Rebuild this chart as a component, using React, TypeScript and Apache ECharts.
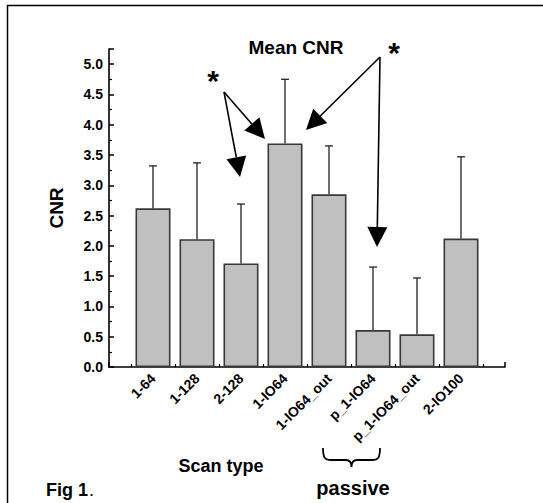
import React, { useEffect, useRef } from "react";
import * as echarts from "echarts";

const categories = ["1-64", "1-128", "2-128", "1-IO64", "1-IO64_out", "p_1-IO64", "p_1-IO64_out", "2-IO100"];
const meanCNR = [2.62, 2.11, 1.71, 3.69, 2.85, 0.61, 0.54, 2.12];
const errorUpper = [3.32, 3.37, 2.69, 4.75, 3.65, 1.65, 1.47, 3.47];

const FONT = '"Liberation Sans", Arial, sans-serif';

function arrow(x1: number, y1: number, x2: number, y2: number) {
  const L = 20, W = 10;
  const dx = x2 - x1, dy = y2 - y1;
  const len = Math.hypot(dx, dy);
  const ux = dx / len, uy = dy / len;
  const bx = x2 - ux * L, by = y2 - uy * L;
  const px = -uy, py = ux;
  return [
    { type: "line", shape: { x1, y1, x2: bx, y2: by }, style: { stroke: "#000", lineWidth: 1.6 } },
    {
      type: "polygon",
      shape: { points: [[x2, y2], [bx + px * W, by + py * W], [bx - px * W, by - py * W]] },
      style: { fill: "#000" },
    },
  ];
}

echarts.graphic.registerShape(
  "brace",
  echarts.graphic.extendPath(
    "M0,0 C0,10 2,12 8,12 L23,12 C27,12 28.5,14 28.5,19 C28.5,14 30,12 34,12 L49,12 C55,12 57,10 57,0",
    {}
  )
);

export default function App() {
  const ref = useRef<HTMLDivElement>(null);
  useEffect(() => {
    if (!ref.current) return;
    const chart = echarts.init(ref.current, null, { renderer: "svg" });
    const txt = (text: string, x: number, y: number, size: number, weight = "bold", align = "center") => ({
      type: "text",
      x,
      y,
      style: {
        text,
        fill: "#000",
        fontFamily: FONT,
        fontSize: size,
        fontWeight: weight,
        align,
        verticalAlign: "middle",
      },
    });
    chart.setOption({
      animation: false,
      backgroundColor: "#fff",
      grid: { left: 109, right: 38, top: 49, bottom: 136 },
      xAxis: {
        type: "value",
        min: 0,
        max: 9,
        interval: 1,
        axisLine: { show: true, lineStyle: { color: "#000", width: 1.6 } },
        axisTick: { show: true, inside: true, length: 5, lineStyle: { color: "#000", width: 1.5 } },
        minorTick: { show: true, splitNumber: 2, length: 3, lineStyle: { color: "#000", width: 1.2 } },
        splitLine: { show: false },
        axisLabel: {
          rotate: 45,
          margin: 9,
          color: "#000",
          fontFamily: FONT,
          fontWeight: "bold",
          fontSize: 14,
          formatter: (v: number) => (v >= 1 && v <= categories.length ? categories[v - 1] : ""),
        },
      },
      yAxis: {
        type: "value",
        min: 0,
        max: 5.25,
        interval: 0.5,
        name: "CNR",
        nameLocation: "middle",
        nameGap: 43,
        nameTextStyle: { color: "#000", fontFamily: FONT, fontWeight: "bold", fontSize: 19 },
        axisLine: { show: true, lineStyle: { color: "#000", width: 1.6 } },
        axisTick: { show: true, inside: true, length: 5, lineStyle: { color: "#000", width: 1.5 } },
        minorTick: { show: true, splitNumber: 2, length: 3, lineStyle: { color: "#000", width: 1.2 } },
        splitLine: { show: false },
        axisLabel: {
          showMaxLabel: false,
          margin: 6,
          color: "#000",
          fontFamily: FONT,
          fontWeight: "bold",
          fontSize: 14,
          formatter: (v: number) => v.toFixed(1),
        },
      },
      series: [
        {
          type: "bar",
          data: categories.map((c, i) => [i + 1, meanCNR[i]]),
          barWidth: 35,
          itemStyle: { color: "#c0c0c0", borderColor: "#383838", borderWidth: 1.6 },
          z: 2,
        },
        {
          type: "custom",
          data: categories.map((c, i) => [i + 1, meanCNR[i], errorUpper[i]]),
          encode: { x: 0, y: [1, 2] },
          z: 3,
          renderItem: (params: any, api: any) => {
            const x = api.value(0);
            const lo = api.coord([x, api.value(1)]);
            const hi = api.coord([x, api.value(2)]);
            const st = { stroke: "#222", lineWidth: 1.3 };
            return {
              type: "group",
              children: [
                { type: "line", shape: { x1: lo[0], y1: lo[1], x2: hi[0], y2: hi[1] }, style: st },
                { type: "line", shape: { x1: hi[0] - 4, y1: hi[1], x2: hi[0] + 4, y2: hi[1] }, style: st },
              ],
            };
          },
        },
      ],
      graphic: [
        { type: "line", shape: { x1: 7, y1: 5.5, x2: 543, y2: 5.5 }, style: { stroke: "#000", lineWidth: 1.5 }, silent: true },
        { type: "line", shape: { x1: 7.5, y1: 5, x2: 7.5, y2: 503 }, style: { stroke: "#000", lineWidth: 1.5 }, silent: true },
        txt("Mean CNR", 296, 47, 19),
        txt("*", 213, 80, 30),
        txt("*", 394, 52, 30),
        ...arrow(224, 92, 265, 139),
        ...arrow(224, 92, 240, 177),
        ...arrow(380, 57, 306, 130),
        ...arrow(380, 57, 377, 247),
        txt("Scan type", 221, 466, 18),
        {
          type: "brace",
          x: 323,
          y: 448,
          style: { fill: "none", stroke: "#000", lineWidth: 1.8 },
        },
        txt("passive", 353, 488, 20),
        txt("Fig 1", 46, 490, 18, "bold", "left"),
        txt(".", 89, 490, 18, "normal", "left"),
      ],
    });
    return () => chart.dispose();
  }, []);
  return <div ref={ref} style={{ position: "fixed", left: 0, top: 0, width: 543, height: 503 }} />;
}
